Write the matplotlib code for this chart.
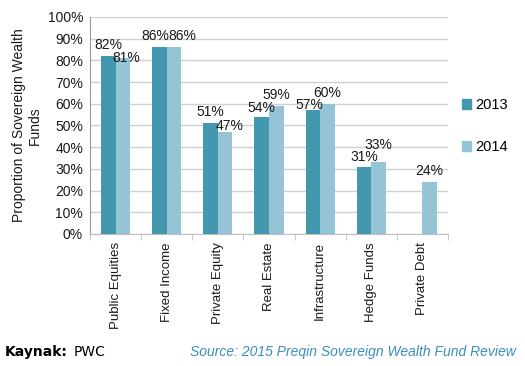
import matplotlib as mpl
mpl.use("Agg")
import matplotlib.pyplot as plt
import matplotlib.patches as mpatches
import numpy as np

categories = ["Public Equities", "Fixed Income", "Private Equity", "Real Estate",
              "Infrastructure", "Hedge Funds", "Private Debt"]
vals_2013 = [82, 86, 51, 54, 57, 31, None]
vals_2014 = [81, 86, 47, 59, 60, 33, 24]
series_names = ["2013", "2014"]

# label nudges (px) where the labels would collide, like excel does it
nudge_2013 = {1: (-4, 0), 3: (0, 2), 4: (-3.5, 6), 5: (0, 1)}
nudge_2014 = {0: (3.5, 11), 1: (8.5, 0), 2: (4.5, 5), 5: (0, -6)}

c13 = "#4397ae"
c14 = "#94c4d5"
txt = "#1a1a1a"

plt.rcParams["font.family"] = ["Liberation Sans", "DejaVu Sans"]

fig = plt.figure(figsize=(5.25, 3.66), dpi=100)
ax = fig.add_axes([0.1714, 0.3607, 0.6819, 0.5929])

x = np.arange(len(categories))
w = 0.285
px = 72 / 100  # points per pixel
for vals, off, col, nudge in [(vals_2013, -w / 2, c13, nudge_2013),
                              (vals_2014, w / 2, c14, nudge_2014)]:
    for i, v in enumerate(vals):
        if v is None:
            continue
        ax.bar(x[i] + off, v, width=w, color=col, zorder=3)
        dx, dy = nudge.get(i, (0, 0))
        ax.annotate(f"{v}%", (x[i] + off, v), xytext=(dx * px, (4 - dy) * px),
                    textcoords="offset points", ha="center", va="bottom",
                    fontsize=10, color=txt, zorder=4)

ax.set_xlim(-0.5, len(categories) - 0.5)
ax.set_ylim(0, 100)
ax.set_yticks(np.arange(0, 101, 10))
ax.set_yticklabels([f"{t}%" for t in range(0, 101, 10)], fontsize=10, color=txt)
ax.yaxis.grid(True, color="#d0d0d0", linewidth=1, zorder=0)
ax.tick_params(axis="y", length=0, pad=5)

ax.set_xticks(x)
ax.set_xticklabels(categories, rotation=90, fontsize=9.5, color=txt)
ax.set_xticks(np.arange(-0.5, len(categories)), minor=True)
ax.tick_params(axis="x", which="major", length=0, pad=6)
ax.tick_params(axis="x", which="minor", length=4, color="#bfbfbf")

for s in ["top", "right"]:
    ax.spines[s].set_visible(False)
ax.spines["left"].set_color("#9a9a9a")
ax.spines["bottom"].set_color("#bfbfbf")

ax.set_ylabel("Proportion of Sovereign Wealth\nFunds", fontsize=10, color=txt,
              labelpad=4)

handles = [mpatches.Patch(color=c13), mpatches.Patch(color=c14)]
leg = fig.legend(handles, series_names, loc="center left",
                 bbox_to_anchor=(0.855, 0.655), frameon=False, fontsize=10.5,
                 handlelength=0.6, handleheight=0.7, handletextpad=0.3,
                 labelspacing=1.9)

fig.text(0.01, 0.038, "Kaynak:", fontsize=10, fontweight="bold", color="black",
         va="center", family="DejaVu Sans")
fig.text(0.141, 0.038, "PWC", fontsize=10, color="black", va="center",
         family="DejaVu Sans")
fig.text(0.982, 0.038, "Source: 2015 Preqin Sovereign Wealth Fund Review",
         fontsize=10, style="italic", color="#3a8dbf", ha="right", va="center")

fig.savefig("out.png", dpi=100)
